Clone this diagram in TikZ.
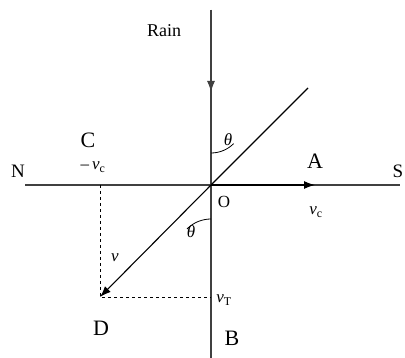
\documentclass[tikz,border=0pt]{standalone}
\usepackage{fontspec}
\setmainfont{Liberation Serif}
\usetikzlibrary{arrows.meta}
\begin{document}
\begin{tikzpicture}[
    x=1pt, y=-1pt,
    axis/.style={line width=1.1pt, draw=black!75},
    vec/.style={-{Latex[length=11pt,width=8pt]}, line width=1.1pt},
    proj/.style={dashed, line width=0.9pt},
    pt/.style={font=\fontsize{22}{22}\selectfont},
    lbl/.style={font=\fontsize{17}{17}\selectfont}
]
\useasboundingbox (0,0) rectangle (405,358);

% axes and points
\coordinate (O) at (211,185);
\coordinate (top) at (211,10);
\coordinate (bot) at (211,358);
\coordinate (west) at (25,185);
\coordinate (east) at (400,185);
\coordinate (ne) at (308,88);
\coordinate (D) at (100,297);
\coordinate (rainhead) at (211,92);
\coordinate (vchead) at (315,185);
\coordinate (Cfoot) at (100,185);
\coordinate (vT) at (211,297);

\draw[axis] (top) -- (bot);
\draw[axis] (west) -- (east);
\draw[vec, draw=black!75] (top) -- (rainhead);
\draw[vec] (O) -- (vchead);
\draw[line width=1.1pt] (O) -- (ne);
\draw[vec] (O) -- (D);
\draw[proj] (Cfoot) -- (D) -- (vT);

% angle arcs
\draw[line width=0.8pt] (211,153) arc[start angle=90, end angle=45, radius=32];
\draw[line width=0.8pt] (211,219) arc[start angle=270, end angle=225, radius=34];

% labels
\node[lbl, font=\fontsize{18}{18}\selectfont] (rain) at (164,31) {Rain};
\node[pt] (Clbl) at (88,140) {C};
\node[lbl] (vcneg) at (93,167) {\textendash\,\textit{v}\textsubscript{c}};
\node[lbl, font=\fontsize{19}{19}\selectfont] (Nlbl) at (18,171) {N};
\node[lbl, font=\fontsize{19}{19}\selectfont] (Slbl) at (398,171) {S};
\node[pt] (Albl) at (315,161) {A};
\node[lbl] (Olbl) at (224,202) {O};
\node[lbl] (vc) at (316,212) {\textit{v}\textsubscript{c}};
\node[lbl] (th1) at (228,140) {\textit{θ}};
\node[lbl] (th2) at (191,232) {\textit{θ}};
\node[lbl] (vlbl) at (115,258) {\textit{v}};
\node[lbl] (vTlbl) at (224,300) {\textit{v}\textsubscript{T}};
\node[pt] (Dlbl) at (101,328) {D};
\node[pt] (Blbl) at (232,338) {B};
\end{tikzpicture}
\end{document}
